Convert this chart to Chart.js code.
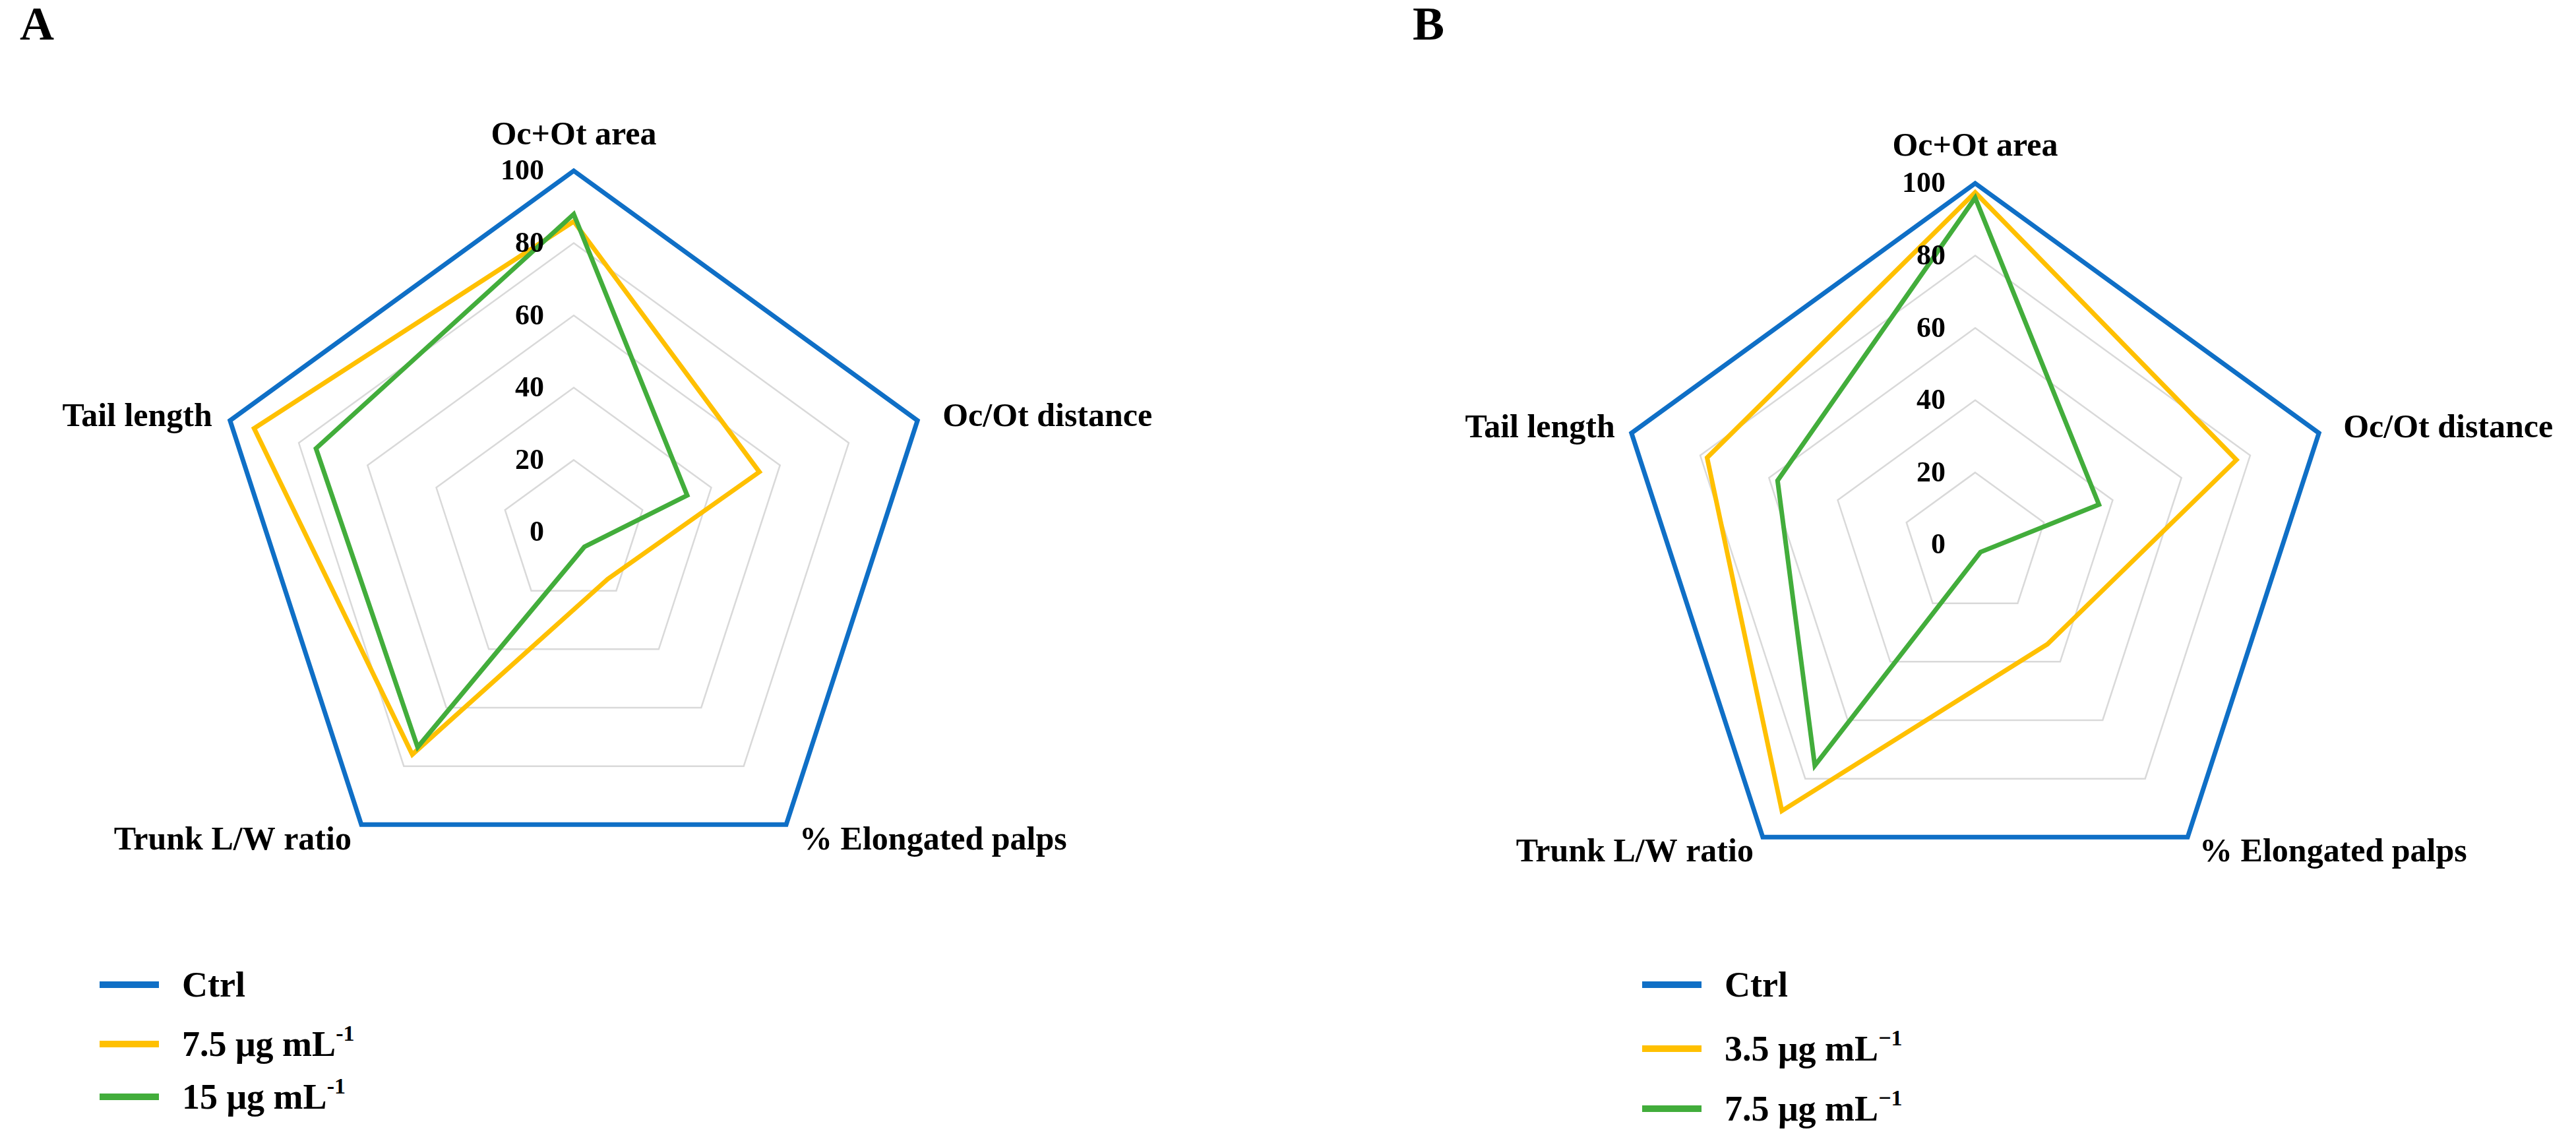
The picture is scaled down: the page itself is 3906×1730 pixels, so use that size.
<!DOCTYPE html>
<html>
<head>
<meta charset="utf-8">
<script src="https://cdn.jsdelivr.net/npm/chart.js@4.4.1/dist/chart.umd.min.js"></script>
<style>
  body { margin: 0; background: #fff; }
  #page { position: relative; width: 3906px; height: 1730px; overflow: hidden; font-family: "Liberation Serif", "Times New Roman", serif; font-weight: bold; color: #000; }
  .panel-tag { position: absolute; top: 0; font-size: 72px; line-height: 72px; }
  canvas { position: absolute; top: 0; }
  .legend-row { position: absolute; height: 60px; display: flex; align-items: center; font-size: 54px; white-space: nowrap; }
  .legend-row .swatch { width: 90px; height: 10px; margin-right: 35px; }
  .legend-row sup { font-size: 34px; position: relative; top: -4px; }
</style>
</head>
<body>
<div id="page">
  <div class="panel-tag" style="left:30px">A</div>
  <div class="panel-tag" style="left:2142px">B</div>
  <canvas id="chartA" width="1950" height="1420" style="left:0"></canvas>
  <canvas id="chartB" width="1956" height="1420" style="left:1950px"></canvas>
</div>
<script>
// radar axes (clockwise from top)
const axisLabels = ['Oc+Ot area', 'Oc/Ot distance', '% Elongated palps', 'Trunk L/W ratio', 'Tail length'];
const tickValues = [0, 20, 40, 60, 80, 100];

// panel A
const seriesNamesA = ['Ctrl', '7.5 μg mL<sup>-1</sup>', '15 μg mL<sup>-1</sup>'];
const ctrlA = [100, 100, 100, 100, 100];
const dose7_5A = [86, 54, 16, 76, 93];
const dose15A = [88, 33, 5, 73.5, 75];

// panel B
const seriesNamesB = ['Ctrl', '3.5 μg mL<sup>−1</sup>', '7.5 μg mL<sup>−1</sup>'];
const ctrlB = [100, 100, 100, 100, 100];
const dose3_5B = [97.5, 76, 34, 91, 78];
const dose7_5B = [96, 36, 2.5, 75.5, 57.5];

const seriesColors = ['#0F6FC6', '#FFC000', '#42AD3B'];

// text drawn next to the radial scale (ticks left of the axis, labels off the vertices)
const radarText = {
  id: 'radarText',
  afterDraw(chart, args, opts) {
    const s = chart.scales.r;
    const ctx = chart.ctx;
    ctx.save();
    ctx.fillStyle = '#000';
    ctx.textBaseline = 'middle';
    ctx.font = 'bold 44px "Liberation Serif"';
    ctx.textAlign = 'right';
    s.ticks.forEach(t => {
      const p = s.getPointPositionForValue(0, t.value);
      ctx.fillText(t.label, p.x - opts.tickGap, p.y + 2);
    });
    ctx.font = 'bold 50px "Liberation Serif"';
    chart.data.labels.forEach((lab, i) => {
      const p = s.getPointPosition(i, s.drawingArea);
      const o = opts.offsets[i];
      ctx.textAlign = o.align;
      ctx.fillText(lab, p.x + o.dx, p.y + o.dy);
    });
    ctx.restore();
  }
};

function makeRadar(id, names, series, padding, offsets) {
  const order = [3, 2, 1]; // green on top, blue underneath
  return new Chart(document.getElementById(id), {
    type: 'radar',
    data: {
      labels: axisLabels,
      datasets: series.map((d, i) => ({
        label: names[i].replace(/<[^>]+>/g, ''),
        data: d,
        borderColor: seriesColors[i],
        backgroundColor: seriesColors[i],
        borderWidth: 7,
        borderJoinStyle: 'miter',
        fill: false,
        tension: 0,
        pointRadius: 0,
        order: order[i]
      }))
    },
    options: {
      responsive: false,
      animation: false,
      layout: { padding },
      scales: {
        r: {
          min: tickValues[0],
          max: tickValues[tickValues.length - 1],
          beginAtZero: true,
          ticks: { stepSize: tickValues[1] - tickValues[0], display: false },
          grid: { color: '#D9D9D9', lineWidth: 2.5 },
          angleLines: { display: false },
          pointLabels: { display: false }
        }
      },
      plugins: {
        legend: { display: false },
        tooltip: { enabled: false },
        radarText: { tickGap: 45, offsets }
      }
    },
    plugins: [radarText]
  });
}

makeRadar('chartA', seriesNamesA, [ctrlA, dose7_5A, dose15A],
  { left: 322, top: 259, right: 532, bottom: 65 },
  [
    { align: 'center', dx: 0, dy: -53 },
    { align: 'left', dx: 38, dy: -5 },
    { align: 'left', dx: 20, dy: 25 },
    { align: 'right', dx: -15, dy: 25 },
    { align: 'right', dx: -27, dy: -5 }
  ]);

makeRadar('chartB', seriesNamesB, [ctrlB, dose3_5B, dose7_5B],
  { left: 497, top: 278, right: 363, bottom: 46 },
  [
    { align: 'center', dx: 0, dy: -55 },
    { align: 'left', dx: 37, dy: -7 },
    { align: 'left', dx: 18, dy: 24 },
    { align: 'right', dx: -14, dy: 24 },
    { align: 'right', dx: -25, dy: -7 }
  ]);

// legends, one column per panel
function makeLegend(names, left, rowCenters) {
  const page = document.getElementById('page');
  names.forEach((n, i) => {
    const row = document.createElement('div');
    row.className = 'legend-row';
    row.style.left = left + 'px';
    row.style.top = (rowCenters[i] - 30) + 'px';
    row.innerHTML = '<div class="swatch" style="background:' + seriesColors[i] + '"></div><span>' + n + '</span>';
    page.appendChild(row);
  });
}
makeLegend(seriesNamesA, 151, [1493, 1583, 1663]);
makeLegend(seriesNamesB, 2490, [1493, 1590, 1681]);
</script>
</body>
</html>
